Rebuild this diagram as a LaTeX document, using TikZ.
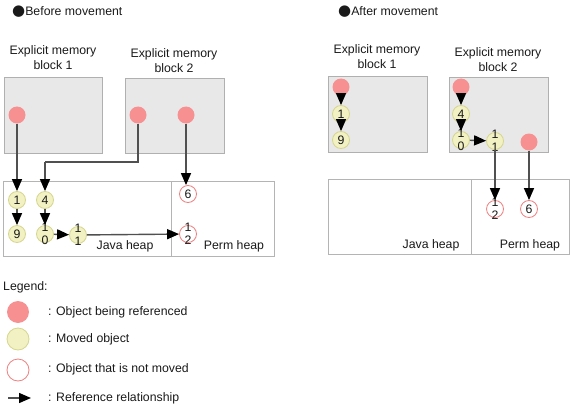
\documentclass[tikz,border=0pt]{standalone}
\usepackage{fontspec}
\setmainfont{Liberation Sans}
\newfontfamily\symfont{DejaVu Sans}
\usetikzlibrary{arrows.meta}
\definecolor{txt}{HTML}{1A1A1A}
\definecolor{blockfill}{HTML}{E8E8E8}
\definecolor{blockline}{HTML}{B0B0B0}
\definecolor{heapline}{HTML}{B4B4B4}
\definecolor{redfill}{HTML}{F79191}
\definecolor{yelfill}{HTML}{F1F1C3}
\definecolor{yelline}{HTML}{D6D68E}
\definecolor{redline}{HTML}{F08080}
\definecolor{conn}{HTML}{505050}
\newcommand{\bigdot}{{\symfont\fontsize{15}{15}\selectfont ●}}
\tikzset{
  x=1pt, y=-1pt,
  every node/.style={text=txt, font=\fontsize{12.3}{13}\selectfont},
  blockbox/.style={fill=blockfill, draw=blockline, line width=1pt},
  heapbox/.style={fill=white, draw=heapline, line width=1pt},
  refobj/.style={circle, fill=redfill, minimum size=17pt, inner sep=0pt},
  movobj/.style={circle, fill=yelfill, draw=yelline, line width=0.8pt, minimum size=17pt, inner sep=0pt},
  fixobj/.style={circle, fill=white, draw=redline, line width=0.8pt, minimum size=17pt, inner sep=0pt},
  twoline/.style={align=center, font=\fontsize{12.3}{13}\selectfont},
  refarrow/.style={draw=conn, line width=1.4pt, -{Triangle[length=12pt,width=10pt,color=black]}},
  refline/.style={draw=conn, line width=1.4pt},
  lbl/.style={align=center, font=\fontsize{12.3}{15}\selectfont},
}
\begin{document}
\begin{tikzpicture}
\useasboundingbox (0,0) rectangle (572,409);

% ---------- Before movement ----------
\node[anchor=base west, inner sep=0pt] (titleL) at (12,16) {\bigdot Before movement};

\node[lbl] (lblL1) at (53,58) {Explicit memory\\block 1};
\node[lbl] (lblL2) at (174,61) {Explicit memory\\block 2};
\draw[blockbox] (4,78) rectangle (102,153);
\draw[blockbox] (125,79) rectangle (224,153);

\draw[heapbox] (3,181) rectangle (171,256);
\draw[heapbox] (171,181) rectangle (274,256);
\node (javaL) at (125,246) {Java heap};
\node (permL) at (234,246) {Perm heap};

\node[refobj] (rA) at (17,115) {};
\node[refobj] (rB) at (138,115) {};
\node[refobj] (rC) at (186,115) {};

\node[movobj] (m1) at (17,200) {1};
\node[movobj] (m4) at (45,200) {4};
\node[movobj] (m9) at (17,234) {9};
\node[movobj] (m10) at (45,234) {};
\node[twoline] at (m10) {1\\0};
\node[movobj] (m11) at (78,235) {};
\node[twoline] at (m11) {1\\1};
\node[fixobj] (f6) at (188,194) {6};
\node[fixobj] (f12) at (188,234) {};
\node[twoline] at (f12) {1\\2};

\coordinate (bendA) at (138,162);
\coordinate (bendB) at (45,162);
\draw[refarrow] (rA) -- (m1);
\draw[refline] (rB) -- (bendA) -- (bendB);
\draw[refarrow] (bendB) -- (m4);
\draw[refarrow] (rC.south) -- (rC.south |- f6.north);
\draw[refarrow] (m1) -- (m9);
\draw[refarrow] (m4) -- (m10);
\draw[refarrow] (m10) -- (m11);
\draw[refarrow] (m11) -- (f12);

% ---------- After movement ----------
\node[anchor=base west, inner sep=0pt] (titleR) at (338,16) {\bigdot After movement};

\node[lbl] (lblR1) at (377,57) {Explicit memory\\block 1};
\node[lbl] (lblR2) at (498,60) {Explicit memory\\block 2};
\draw[blockbox] (328,77) rectangle (427,152);
\draw[blockbox] (449,78) rectangle (548,152);

\draw[heapbox] (328,179) rectangle (471,254);
\draw[heapbox] (471,179) rectangle (569,254);
\node (javaR) at (431,245) {Java heap};
\node (permR) at (530,245) {Perm heap};

\node[refobj] (rD) at (341,87) {};
\node[movobj] (n1) at (341,114) {1};
\node[movobj] (n9) at (341,140) {9};

\node[refobj] (rE) at (461,87) {};
\node[movobj] (n4) at (461,114) {4};
\node[movobj] (n10) at (461,140) {};
\node[twoline] at (n10) {1\\0};
\node[movobj] (n11) at (495,141) {};
\node[twoline] at (n11) {1\\1};
\node[refobj] (rF) at (529,142) {};

\node[fixobj] (g12) at (495,209) {};
\node[twoline] at (g12) {1\\2};
\node[fixobj] (g6) at (529,209) {6};

\draw[refarrow] (rD) -- (n1);
\draw[refarrow] (n1) -- (n9);
\draw[refarrow] (rE) -- (n4);
\draw[refarrow] (n4) -- (n10);
\draw[refarrow] (n10) -- (n11);
\draw[refarrow] (n11) -- (g12);
\draw[refarrow] (rF) -- (g6);

% ---------- Legend ----------
\node[anchor=west, inner sep=0pt] (legend) at (3,287) {Legend:};
\node[refobj, minimum size=22pt] (lgR) at (18,312) {};
\node[movobj, minimum size=22pt] (lgY) at (18,339) {};
\node[fixobj, minimum size=22pt] (lgW) at (18,370) {};
\coordinate (lgA1) at (8,398);
\coordinate (lgA2) at (31,398);
\draw[refarrow] (lgA1) -- (lgA2);
\node[anchor=west, inner sep=0pt] (lgtR) at (48,312) {: Object being referenced};
\node[anchor=west, inner sep=0pt] (lgtY) at (48,339) {: Moved object};
\node[anchor=west, inner sep=0pt] (lgtW) at (48,369) {: Object that is not moved};
\node[anchor=west, inner sep=0pt] (lgtA) at (48,398) {: Reference relationship};
\end{tikzpicture}
\end{document}
